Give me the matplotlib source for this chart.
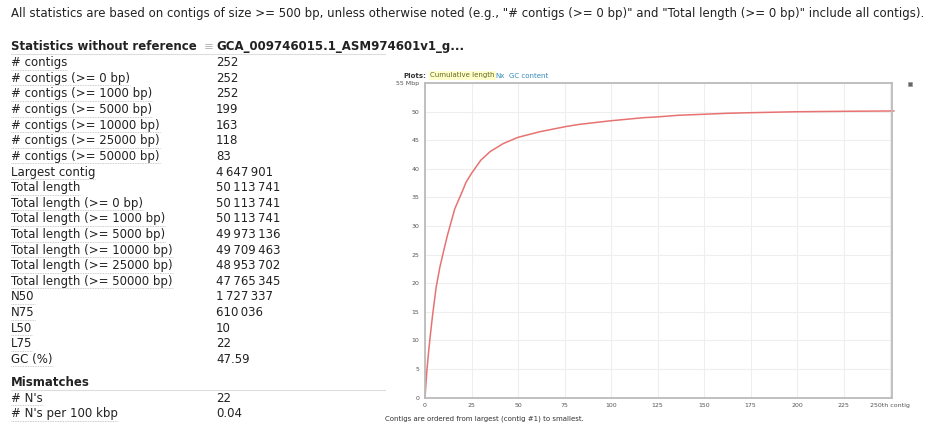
import matplotlib
matplotlib.use("Agg")
import matplotlib.pyplot as plt
from matplotlib.patches import Rectangle

plt.rcParams["font.family"] = ["DejaVu Sans"]

# ---------------- data ----------------
stat_labels = [
    "# contigs", "# contigs (>= 0 bp)", "# contigs (>= 1000 bp)",
    "# contigs (>= 5000 bp)", "# contigs (>= 10000 bp)",
    "# contigs (>= 25000 bp)", "# contigs (>= 50000 bp)",
    "Largest contig", "Total length", "Total length (>= 0 bp)",
    "Total length (>= 1000 bp)", "Total length (>= 5000 bp)",
    "Total length (>= 10000 bp)", "Total length (>= 25000 bp)",
    "Total length (>= 50000 bp)", "N50", "N75", "L50", "L75", "GC (%)",
]
stat_values = [
    "252", "252", "252", "199", "163", "118", "83",
    "4\u2009647\u2009901", "50\u2009113\u2009741", "50\u2009113\u2009741",
    "50\u2009113\u2009741", "49\u2009973\u2009136", "49\u2009709\u2009463",
    "48\u2009953\u2009702", "47\u2009765\u2009345", "1\u2009727\u2009337",
    "610\u2009036", "10", "22", "47.59",
]
mism_labels = ["# N's", "# N's per 100 kbp"]
mism_values = ["22", "0.04"]

# cumulative length curve (Mbp) vs contig index
contig_idx = [0, 1, 2, 3, 4, 6, 8, 10, 12, 16, 20, 22, 25, 30, 35, 42, 50,
              62, 76, 83, 100, 118, 124, 136, 163, 174, 199, 225, 252]
cum_len = [0, 4.65, 8.2, 11.3, 14.2, 19.3, 22.8, 25.6, 28.3, 33.0, 36.0,
           37.6, 39.2, 41.5, 43.0, 44.4, 45.5, 46.5, 47.4, 47.77, 48.4, 48.95,
           49.05, 49.35, 49.71, 49.8, 49.97, 50.05, 50.11]

W, H = 929, 423
fig = plt.figure(figsize=(W / 100, H / 100), dpi=100)

# overlay in pixel coordinates for the html-like text part
ov = fig.add_axes([0, 0, 1, 1])
ov.set_xlim(0, W)
ov.set_ylim(H, 0)
ov.axis("off")

txt_col = "#222222"
fs = 8.5
ov.text(11, 13, 'All statistics are based on contigs of size >= 500 bp, unless otherwise noted '
        '(e.g., "# contigs (>= 0 bp)" and "Total length (>= 0 bp)" include all contigs).',
        fontsize=8.5, color=txt_col, va="center", ha="left")

ov.text(11, 46.5, "Statistics without reference", fontsize=fs, fontweight="bold",
        color=txt_col, va="center")
ov.text(204, 46.5, "\u2261", fontsize=fs, color="#bbbbbb", va="center")
ov.text(216, 46.5, "GCA_009746015.1_ASM974601v1_g...", fontsize=fs, fontweight="bold",
        color=txt_col, va="center")
ov.plot([11, 385], [54, 54], color="#dddddd", lw=0.8)

row_y0, row_dy = 62.7, 15.62
label_texts = []
for i, (lab, val) in enumerate(zip(stat_labels, stat_values)):
    y = row_y0 + i * row_dy
    label_texts.append(ov.text(11, y, lab, fontsize=fs, color=txt_col, va="center"))
    ov.text(216, y, val, fontsize=fs, color=txt_col, va="center")

ov.text(11, 382.7, "Mismatches", fontsize=fs, fontweight="bold", color=txt_col, va="center")
ov.plot([11, 385], [390.5, 390.5], color="#dddddd", lw=0.8)
for i, (lab, val) in enumerate(zip(mism_labels, mism_values)):
    y = 398.3 + i * row_dy
    label_texts.append(ov.text(11, y, lab, fontsize=fs, color=txt_col, va="center"))
    ov.text(216, y, val, fontsize=fs, color=txt_col, va="center")

# dotted underline under labels
fig.canvas.draw()
r = fig.canvas.get_renderer()
inv = ov.transData.inverted()
for t in label_texts:
    bb = t.get_window_extent(renderer=r)
    (x0, y0), (x1, y1) = inv.transform([[bb.x0, bb.y0], [bb.x1, bb.y1]])
    ov.plot([x0, x1], [y0 + 0.5, y0 + 0.5], color="#bbbbbb", lw=0.6, ls=(0, (1, 1)))

# plot header
ov.text(403, 75.5, "Plots:", fontsize=5, fontweight="bold", color="#333333", va="center")
ov.text(430, 75.5, "Cumulative length", fontsize=5, color="#666622", va="center",
        bbox=dict(boxstyle="square,pad=0.15", fc="#ffffcc", ec="none"))
ov.text(495, 75.5, "Nx", fontsize=5, color="#3388bb", va="center")
ov.text(509, 75.5, "GC content", fontsize=5, color="#3388bb", va="center")
ov.add_patch(Rectangle((908.5, 82), 4, 4, fc="#666666", ec="#999999", lw=0.5))
ov.text(385, 419, "Contigs are ordered from largest (contig #1) to smallest.",
        fontsize=5, color="#333333", va="center")

# ---------------- cumulative length plot ----------------
ax = fig.add_axes([425 / W, 1 - 397.5 / H, (892 - 425) / W, (397.5 - 83) / H])
ax.plot(contig_idx, cum_len, color="#e87272", lw=1.1, clip_on=False)
ax.set_xlim(0, 251)
ax.set_ylim(0, 55)
xt = list(range(0, 251, 25))
ax.set_xticks(xt)
ax.set_xticklabels([str(v) for v in xt[:-1]] + ["250th contig"])
yt = list(range(0, 56, 5))
ax.set_yticks(yt)
ax.set_yticklabels([str(v) for v in yt[:-1]] + ["55 Mbp"])
ax.tick_params(length=0, labelsize=4.5, labelcolor="#555555", pad=4)
ax.grid(True, color="#eeeeee", lw=0.8)
ax.set_axisbelow(True)
for s in ax.spines.values():
    s.set_color("#bbbbbb")
    s.set_linewidth(1.3)

fig.savefig("out.png", dpi=100)
